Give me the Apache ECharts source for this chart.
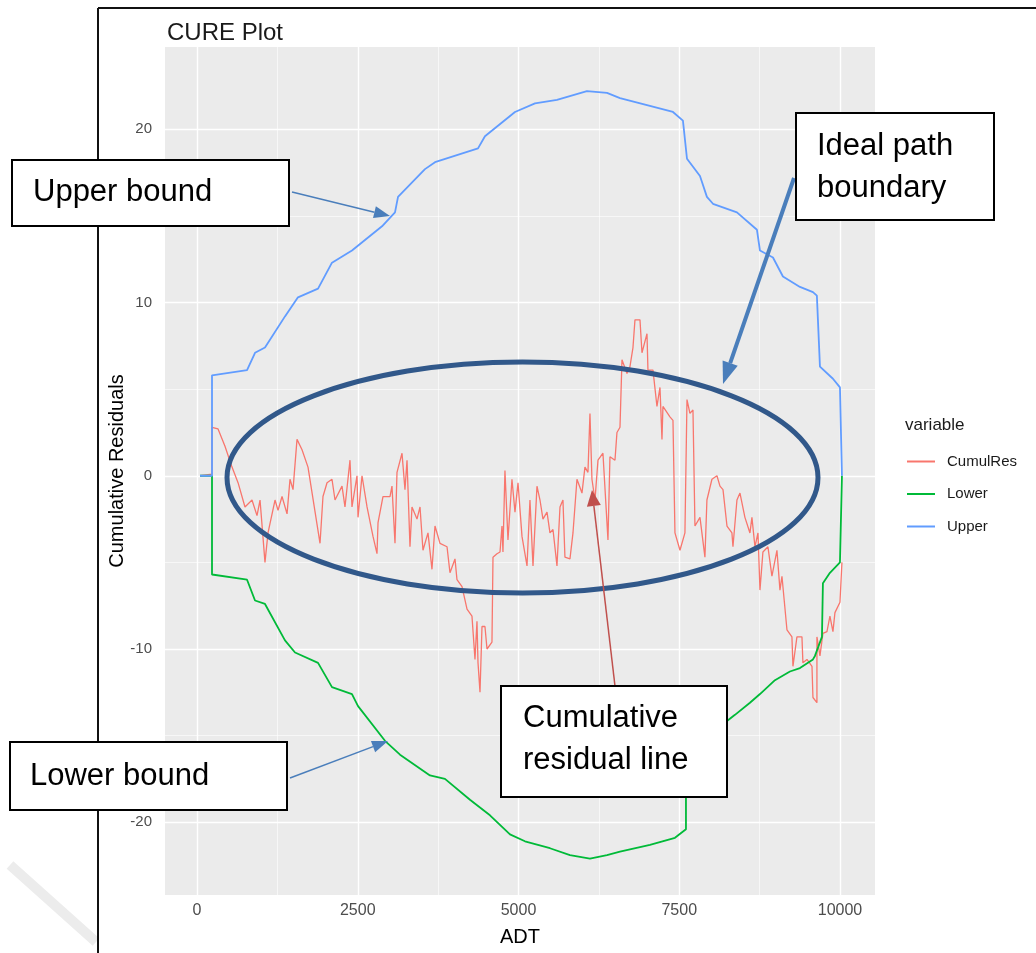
<!DOCTYPE html>
<html>
<head>
<meta charset="utf-8">
<title>CURE Plot</title>
<script src="https://cdn.jsdelivr.net/npm/echarts@6/dist/echarts.min.js"></script>
<style>
  html, body { margin: 0; padding: 0; background: #fff; }
  #chart { width: 1036px; height: 953px; }
</style>
</head>
<body>
<div id="chart"></div>
<script>
// CURE plot: cumulative residuals vs ADT with +/- 2 sigma bounds
const seriesNames = ['CumulRes', 'Lower', 'Upper'];

// [ADT, cumulative residual]
const cumulRes = [
  [47, 0], [233, 0.1], [233, 2.8], [327, 2.7], [435, 1.7], [544, 0.5], [638, -0.4], [746, -1.8],
  [855, -1.4], [933, -2.3], [980, -1.4], [1057, -5.0], [1104, -3.3], [1213, -1.4], [1260, -2.0],
  [1322, -1.2], [1400, -2.2], [1446, -0.2], [1493, -0.8], [1555, 2.1], [1633, 1.5], [1726, 0.5],
  [1913, -3.9], [1959, -1.2], [2022, -0.4], [2099, -0.2], [2146, -1.4], [2255, -0.6], [2301, -1.8],
  [2379, 0.9], [2410, -1.8], [2488, 0], [2504, -2.4], [2566, 0], [2644, -1.8], [2737, -3.5],
  [2799, -4.5], [2815, -2.7], [2892, -1.2], [3001, -1.2], [3032, -0.6], [3079, -3.9], [3110, 0.2],
  [3188, 1.3], [3234, -0.8], [3266, 0.9], [3312, -4.1], [3343, -1.8], [3421, -2.5], [3468, -1.8],
  [3514, -4.3], [3592, -3.3], [3654, -5.4], [3701, -2.9], [3779, -3.9], [3888, -4.1], [3934, -5.6],
  [4012, -4.8], [4043, -6.0], [4121, -6.4], [4199, -7.7], [4276, -8.1], [4323, -10.6], [4354, -8.4],
  [4370, -10.8], [4401, -12.5], [4432, -8.7], [4478, -8.7], [4510, -10.0], [4587, -9.6], [4603, -4.7],
  [4665, -4.5], [4712, -4.4], [4743, -2.9], [4758, -4.4], [4789, 0.3], [4836, -3.7], [4898, -0.2],
  [4945, -2.1], [4992, -0.4], [5054, -3.5], [5132, -5.2], [5178, -1.4], [5225, -5.2], [5287, -0.6],
  [5334, -1.4], [5380, -2.5], [5443, -2.1], [5489, -3.3], [5536, -3.1], [5598, -5.2], [5645, -1.8],
  [5691, -1.4], [5722, -4.7], [5800, -4.8], [5847, -3.3], [5909, -0.2], [5987, -1.0], [6033, 0.5],
  [6080, 0.2], [6111, 3.6], [6142, -0.2], [6189, -1.4], [6236, 0.9], [6313, 1.3], [6391, -3.7],
  [6422, 1.1], [6500, 0.9], [6531, 2.5], [6578, 2.8], [6609, 6.7], [6687, 5.9], [6733, 6.3],
  [6780, 7.4], [6811, 9.0], [6889, 9.0], [6920, 7.1], [6998, 8.2], [7013, 6.1], [7091, 6.1],
  [7153, 4.0], [7200, 5.1], [7231, 2.1], [7246, 4.0], [7355, 3.4], [7402, 3.2], [7433, -3.3],
  [7511, -4.3], [7588, -3.3], [7620, 4.4], [7666, 3.6], [7713, 3.8], [7744, -2.9], [7822, -2.4],
  [7899, -4.7], [7930, -1.4], [8008, -0.2], [8086, 0], [8133, -0.6], [8180, -0.8], [8242, -2.9],
  [8319, -3.3], [8335, -4.1], [8397, -1.4], [8444, -1.0], [8521, -2.4], [8599, -3.3], [8630, -2.4],
  [8677, -4.1], [8724, -3.3], [8755, -6.6], [8801, -4.4], [8879, -4.1], [8941, -5.8], [9019, -4.3],
  [9066, -6.6], [9097, -5.8], [9175, -8.9], [9252, -9.3], [9268, -11.0], [9330, -9.3], [9408, -9.3],
  [9423, -10.8], [9486, -10.6], [9564, -11.0], [9579, -12.8], [9641, -13.1], [9641, -9.3], [9688, -10.4],
  [9734, -9.1], [9797, -9.0], [9843, -8.1], [9890, -9.0], [9921, -7.9], [9999, -7.3], [10030, -5.0]
];

// [ADT, lower bound]
const lowerBound = [
  [47, 0], [233, 0], [233, -5.7], [778, -6.0], [902, -7.2], [1057, -7.4], [1368, -9.5], [1524, -10.2],
  [1882, -10.8], [2099, -12.2], [2410, -12.6], [2504, -13.3], [2923, -15.3], [3157, -16.1],
  [3623, -17.3], [3856, -17.5], [4245, -18.7], [4556, -19.6], [4867, -20.7], [5100, -21.1],
  [5489, -21.5], [5800, -21.9], [6111, -22.1], [6376, -21.9], [6578, -21.7], [7044, -21.3],
  [7433, -20.9], [7604, -20.4], [7604, -15.5], [7822, -15.1], [8055, -14.7], [8366, -13.8],
  [8599, -13.1], [8755, -12.6], [8988, -11.8], [9221, -11.3], [9377, -11.1], [9579, -10.6],
  [9610, -10.4], [9719, -9.3], [9734, -6.2], [9843, -5.6], [9999, -5.0], [10030, -5.0], [10030, 0]
];

// [ADT, upper bound]
const upperBound = [
  [47, 0], [233, 0], [233, 5.8], [778, 6.1], [902, 7.1], [1057, 7.4], [1368, 9.2], [1570, 10.3],
  [1882, 10.8], [2099, 12.3], [2410, 13.0], [2877, 14.4], [3079, 15.2], [3126, 16.1], [3545, 17.7],
  [3701, 18.1], [4370, 18.9], [4478, 19.6], [4945, 21.0], [5256, 21.5], [5598, 21.7], [6064, 22.2],
  [6376, 22.1], [6578, 21.8], [6998, 21.4], [7402, 21.0], [7557, 20.5], [7620, 18.3], [7822, 17.3],
  [7930, 16.1], [8024, 15.7], [8397, 15.2], [8708, 14.2], [8755, 13.0], [8957, 12.6], [9112, 11.5],
  [9377, 10.9], [9579, 10.6], [9640, 10.4], [9688, 6.3], [9890, 5.6], [9999, 5.1], [10030, 5.0],
  [10030, 0]
];

const xTicks = [0, 2500, 5000, 7500, 10000];
const xMinor = [1250, 3750, 6250, 8750];
const yTicks = [-20, -10, 0, 10, 20];
const yMinor = [-15, -5, 5, 15];

const FONT = '"Liberation Sans", Arial, sans-serif';
const colors = ['#F8766D', '#00BA38', '#619CFF'];

function arrow(x1, y1, x2, y2, color, w, hl, hw) {
  const a = Math.atan2(y2 - y1, x2 - x1);
  const bx = x2 - hl * Math.cos(a), by = y2 - hl * Math.sin(a);
  const px = -Math.sin(a) * hw / 2, py = Math.cos(a) * hw / 2;
  return [
    { type: 'line', z: 100, shape: { x1, y1, x2: bx, y2: by }, style: { stroke: color, lineWidth: w } },
    { type: 'polygon', z: 100, shape: { points: [[x2, y2], [bx + px, by + py], [bx - px, by - py]] }, style: { fill: color } }
  ];
}
function box(x, y, w, h) {
  return { type: 'rect', z: 100, shape: { x, y, width: w, height: h }, style: { fill: '#fff', stroke: '#000', lineWidth: 2 } };
}
function label(x, y, text) {
  return { type: 'text', z: 101, x, y, style: { text, font: '31px ' + FONT, fill: '#000', lineHeight: 42, textVerticalAlign: 'top' } };
}

const gridLines = [
  ...xTicks.map(v => ({ xAxis: v, lineStyle: { width: 1.4 } })),
  ...xMinor.map(v => ({ xAxis: v, lineStyle: { width: 0.6 } })),
  ...yTicks.map(v => ({ yAxis: v, lineStyle: { width: 1.4 } })),
  ...yMinor.map(v => ({ yAxis: v, lineStyle: { width: 0.6 } }))
];

const chart = echarts.init(document.getElementById('chart'));
chart.setOption({
  animation: false,
  textStyle: { fontFamily: FONT },
  title: { text: 'CURE Plot', left: 162, top: 16, textStyle: { fontSize: 24, fontWeight: 'normal', color: '#1a1a1a', fontFamily: FONT } },
  grid: { left: 165, right: 161, top: 47, bottom: 58, show: true, backgroundColor: '#ebebeb', borderWidth: 0 },
  xAxis: {
    type: 'value', min: -498, max: 10544,
    name: 'ADT', nameLocation: 'middle', nameGap: 32, nameMoveOverlap: false,
    nameTextStyle: { fontSize: 20, color: '#000' },
    axisLine: { show: false },
    axisTick: { show: true, length: 4, lineStyle: { color: '#333' }, customValues: xTicks },
    axisLabel: { customValues: xTicks, color: '#4d4d4d', fontSize: 16, margin: 8, formatter: v => String(v) },
    splitLine: { show: false }
  },
  yAxis: {
    type: 'value', min: -24.2, max: 24.75,
    name: 'Cumulative Residuals', nameLocation: 'middle', nameGap: 38, nameMoveOverlap: false,
    nameTextStyle: { fontSize: 20, color: '#000' },
    axisLine: { show: false },
    axisTick: { show: true, length: 4, lineStyle: { color: '#333' }, customValues: yTicks },
    axisLabel: { customValues: yTicks, color: '#4d4d4d', fontSize: 15, margin: 13 },
    splitLine: { show: false }
  },
  legend: {
    data: seriesNames, orient: 'vertical', left: 902, top: 448, itemGap: 15.5,
    icon: 'rect', itemWidth: 28, itemHeight: 2,
    textStyle: { fontSize: 15, color: '#1a1a1a', lineHeight: 17, padding: [0, 0, 0, 7] }
  },
  series: [
    {
      name: '_grid', type: 'line', data: [], z: 1, silent: true,
      markLine: { z: 1, silent: true, symbol: 'none', label: { show: false }, lineStyle: { color: '#fff', type: 'solid' }, data: gridLines }
    },
    { name: seriesNames[0], type: 'line', data: cumulRes, showSymbol: false, z: 3, color: colors[0], lineStyle: { width: 1.3 } },
    { name: seriesNames[1], type: 'line', data: lowerBound, showSymbol: false, z: 4, color: colors[1], lineStyle: { width: 1.8 } },
    { name: seriesNames[2], type: 'line', data: upperBound, showSymbol: false, z: 5, color: colors[2], lineStyle: { width: 1.8 } }
  ],
  graphic: [
    // frame lines and faint watermark
    { type: 'line', z: 90, shape: { x1: 98, y1: 8, x2: 98, y2: 953 }, style: { stroke: '#111', lineWidth: 2 } },
    { type: 'line', z: 90, shape: { x1: 98, y1: 8, x2: 1036, y2: 8 }, style: { stroke: '#111', lineWidth: 2 } },
    { type: 'line', z: 89, shape: { x1: 10, y1: 865, x2: 96, y2: 942 }, style: { stroke: '#ececec', lineWidth: 10 } },
    { type: 'text', z: 101, x: 905, y: 425, style: { text: 'variable', font: '17px ' + FONT, fill: '#1a1a1a', textVerticalAlign: 'middle' } },
    // ideal path ellipse
    { type: 'ellipse', z: 100, shape: { cx: 522.5, cy: 477.5, rx: 295.5, ry: 115.5 }, style: { fill: 'none', stroke: '#31588a', lineWidth: 5 } },
    ...arrow(292, 192, 390, 216, '#4a7ebb', 1.5, 16, 12),
    ...arrow(290, 778, 388, 741, '#4a7ebb', 1.5, 16, 12),
    ...arrow(794, 178, 723, 384, '#4a7ebb', 4, 22, 16),
    ...arrow(615, 686, 592, 490, '#c0504d', 1.5, 16, 14),
    box(12, 160, 277, 66), label(33, 171, 'Upper bound'),
    box(796, 113, 198, 107), label(817, 125, 'Ideal path\nboundary'),
    box(10, 742, 277, 68), label(30, 755, 'Lower bound'),
    box(501, 686, 226, 111), label(523, 697, 'Cumulative\nresidual line')
  ]
});
</script>
</body>
</html>
